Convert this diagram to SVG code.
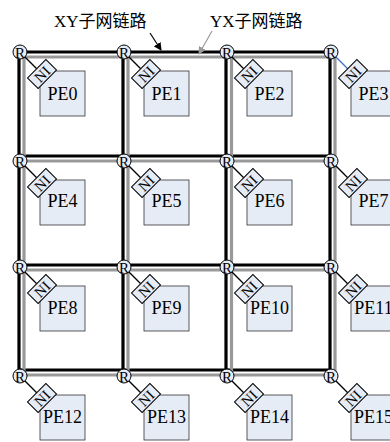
<svg xmlns="http://www.w3.org/2000/svg" width="390" height="442" viewBox="0 0 390 442" font-family="Liberation Serif, Times New Roman, DejaVu Serif, serif">
<style>
.bk{stroke:#000;stroke-width:3.2;fill:none}
.gy{stroke:#999;stroke-width:3.2;fill:none}
.rt{fill:#e6ecf5;stroke:#000;stroke-width:1}
.pe{fill:#e6ecf5;stroke:#333;stroke-width:0.8}
.ni{fill:#e6ecf5;stroke:#000;stroke-width:1}
.lk{stroke:#000;stroke-width:1.3}
.pt{font-size:18px;text-anchor:middle;fill:#000}
.nt{font-size:15px;text-anchor:middle;dominant-baseline:central;fill:#000}
.rtx{font-size:15px;text-anchor:middle;dominant-baseline:central;fill:#000}
.ttl{font-size:17px;fill:#000}
</style>
<defs>
<marker id="ab" markerWidth="8" markerHeight="8" refX="7" refY="4" orient="auto" markerUnits="userSpaceOnUse"><path d="M0,0 L8,4 L0,8 z" fill="#000"/></marker>
<marker id="ag" markerWidth="8" markerHeight="8" refX="7" refY="4" orient="auto" markerUnits="userSpaceOnUse"><path d="M0,0 L8,4 L0,8 z" fill="#999"/></marker>
</defs>
<g id="connectors">
<path class="bk" d="M19,52H331M19,156H331M19,265H331M19,370H331M19,52V370M123,52V370M226,52V370M330,52V370"/>
<path class="gy" d="M24,57H335M24,161H335M24,270H335M24,375H335M24,57V375M128,57V375M231.5,57V375M335,57V375"/>
<line x1="150" y1="33" x2="161" y2="50" stroke="#000" stroke-width="1.2" marker-end="url(#ab)"/>
<line x1="212" y1="31" x2="199" y2="54" stroke="#999" stroke-width="1.2" marker-end="url(#ag)"/>
</g>
<g id="labels" font-family="Liberation Serif, Noto Sans CJK SC, serif">
<text class="ttl" x="54" y="27">XY子网链路</text>
<text class="ttl" x="210" y="27">YX子网链路</text>
</g>
<g id="n0" transform="translate(20,52)"><rect class="pe" x="20" y="19" width="45" height="45"/><text class="pt" x="42.5" y="48">PE0</text><line class="lk" x1="0" y1="0" x2="16.7" y2="16.7"/><g transform="translate(22,22) rotate(-45)"><rect class="ni" x="-13" y="-7.5" width="26" height="15"/><text class="nt" x="0" y="0.5">NI</text></g><circle class="rt" r="7"/><text class="rtx" y="0.5">R</text></g>
<g id="n1" transform="translate(124,52)"><rect class="pe" x="20" y="19" width="45" height="45"/><text class="pt" x="42.5" y="48">PE1</text><line class="lk" x1="0" y1="0" x2="16.7" y2="16.7"/><g transform="translate(22,22) rotate(-45)"><rect class="ni" x="-13" y="-7.5" width="26" height="15"/><text class="nt" x="0" y="0.5">NI</text></g><circle class="rt" r="7"/><text class="rtx" y="0.5">R</text></g>
<g id="n2" transform="translate(227,52)"><rect class="pe" x="20" y="19" width="45" height="45"/><text class="pt" x="42.5" y="48">PE2</text><line class="lk" x1="0" y1="0" x2="16.7" y2="16.7"/><g transform="translate(22,22) rotate(-45)"><rect class="ni" x="-13" y="-7.5" width="26" height="15"/><text class="nt" x="0" y="0.5">NI</text></g><circle class="rt" r="7"/><text class="rtx" y="0.5">R</text></g>
<g id="n3" transform="translate(331,52)"><rect class="pe" x="20" y="19" width="45" height="45"/><text class="pt" x="42.5" y="48">PE3</text><line x1="0" y1="0" x2="16.7" y2="16.7" stroke="#4472c4" stroke-width="1.3"/><g transform="translate(22,22) rotate(-45)"><rect class="ni" x="-13" y="-7.5" width="26" height="15"/><text class="nt" x="0" y="0.5">NI</text></g><circle class="rt" r="7"/><text class="rtx" y="0.5">R</text></g>
<g id="n4" transform="translate(20,161)"><rect class="pe" x="20" y="19" width="45" height="45"/><text class="pt" x="42.5" y="46">PE4</text><line class="lk" x1="0" y1="0" x2="16.7" y2="16.7"/><g transform="translate(22,22) rotate(-45)"><rect class="ni" x="-13" y="-7.5" width="26" height="15"/><text class="nt" x="0" y="0.5">NI</text></g><circle class="rt" r="7"/><text class="rtx" y="0.5">R</text></g>
<g id="n5" transform="translate(124,161)"><rect class="pe" x="20" y="19" width="45" height="45"/><text class="pt" x="42.5" y="46">PE5</text><line class="lk" x1="0" y1="0" x2="16.7" y2="16.7"/><g transform="translate(22,22) rotate(-45)"><rect class="ni" x="-13" y="-7.5" width="26" height="15"/><text class="nt" x="0" y="0.5">NI</text></g><circle class="rt" r="7"/><text class="rtx" y="0.5">R</text></g>
<g id="n6" transform="translate(227,161)"><rect class="pe" x="20" y="19" width="45" height="45"/><text class="pt" x="42.5" y="46">PE6</text><line class="lk" x1="0" y1="0" x2="16.7" y2="16.7"/><g transform="translate(22,22) rotate(-45)"><rect class="ni" x="-13" y="-7.5" width="26" height="15"/><text class="nt" x="0" y="0.5">NI</text></g><circle class="rt" r="7"/><text class="rtx" y="0.5">R</text></g>
<g id="n7" transform="translate(331,161)"><rect class="pe" x="20" y="19" width="45" height="45"/><text class="pt" x="42.5" y="46">PE7</text><line class="lk" x1="0" y1="0" x2="16.7" y2="16.7"/><g transform="translate(22,22) rotate(-45)"><rect class="ni" x="-13" y="-7.5" width="26" height="15"/><text class="nt" x="0" y="0.5">NI</text></g><circle class="rt" r="7"/><text class="rtx" y="0.5">R</text></g>
<g id="n8" transform="translate(20,267)"><rect class="pe" x="20" y="19" width="45" height="45"/><text class="pt" x="42.5" y="47">PE8</text><line class="lk" x1="0" y1="0" x2="16.7" y2="16.7"/><g transform="translate(22,22) rotate(-45)"><rect class="ni" x="-13" y="-7.5" width="26" height="15"/><text class="nt" x="0" y="0.5">NI</text></g><circle class="rt" r="7"/><text class="rtx" y="0.5">R</text></g>
<g id="n9" transform="translate(124,267)"><rect class="pe" x="20" y="19" width="45" height="45"/><text class="pt" x="42.5" y="47">PE9</text><line class="lk" x1="0" y1="0" x2="16.7" y2="16.7"/><g transform="translate(22,22) rotate(-45)"><rect class="ni" x="-13" y="-7.5" width="26" height="15"/><text class="nt" x="0" y="0.5">NI</text></g><circle class="rt" r="7"/><text class="rtx" y="0.5">R</text></g>
<g id="n10" transform="translate(227,267)"><rect class="pe" x="20" y="19" width="45" height="45"/><text class="pt" x="42.5" y="47">PE10</text><line class="lk" x1="0" y1="0" x2="16.7" y2="16.7"/><g transform="translate(22,22) rotate(-45)"><rect class="ni" x="-13" y="-7.5" width="26" height="15"/><text class="nt" x="0" y="0.5">NI</text></g><circle class="rt" r="7"/><text class="rtx" y="0.5">R</text></g>
<g id="n11" transform="translate(331,267)"><rect class="pe" x="20" y="19" width="45" height="45"/><text class="pt" x="42.5" y="47">PE11</text><line class="lk" x1="0" y1="0" x2="16.7" y2="16.7"/><g transform="translate(22,22) rotate(-45)"><rect class="ni" x="-13" y="-7.5" width="26" height="15"/><text class="nt" x="0" y="0.5">NI</text></g><circle class="rt" r="7"/><text class="rtx" y="0.5">R</text></g>
<g id="n12" transform="translate(20,376)"><rect class="pe" x="20" y="19" width="45" height="45"/><text class="pt" x="42.5" y="47">PE12</text><line class="lk" x1="0" y1="0" x2="16.7" y2="16.7"/><g transform="translate(22,22) rotate(-45)"><rect class="ni" x="-13" y="-7.5" width="26" height="15"/><text class="nt" x="0" y="0.5">NI</text></g><circle class="rt" r="7"/><text class="rtx" y="0.5">R</text></g>
<g id="n13" transform="translate(124,376)"><rect class="pe" x="20" y="19" width="45" height="45"/><text class="pt" x="42.5" y="47">PE13</text><line class="lk" x1="0" y1="0" x2="16.7" y2="16.7"/><g transform="translate(22,22) rotate(-45)"><rect class="ni" x="-13" y="-7.5" width="26" height="15"/><text class="nt" x="0" y="0.5">NI</text></g><circle class="rt" r="7"/><text class="rtx" y="0.5">R</text></g>
<g id="n14" transform="translate(227,376)"><rect class="pe" x="20" y="19" width="45" height="45"/><text class="pt" x="42.5" y="47">PE14</text><line class="lk" x1="0" y1="0" x2="16.7" y2="16.7"/><g transform="translate(22,22) rotate(-45)"><rect class="ni" x="-13" y="-7.5" width="26" height="15"/><text class="nt" x="0" y="0.5">NI</text></g><circle class="rt" r="7"/><text class="rtx" y="0.5">R</text></g>
<g id="n15" transform="translate(331,376)"><rect class="pe" x="20" y="19" width="45" height="45"/><text class="pt" x="42.5" y="47">PE15</text><line class="lk" x1="0" y1="0" x2="16.7" y2="16.7"/><g transform="translate(22,22) rotate(-45)"><rect class="ni" x="-13" y="-7.5" width="26" height="15"/><text class="nt" x="0" y="0.5">NI</text></g><circle class="rt" r="7"/><text class="rtx" y="0.5">R</text></g>
</svg>
